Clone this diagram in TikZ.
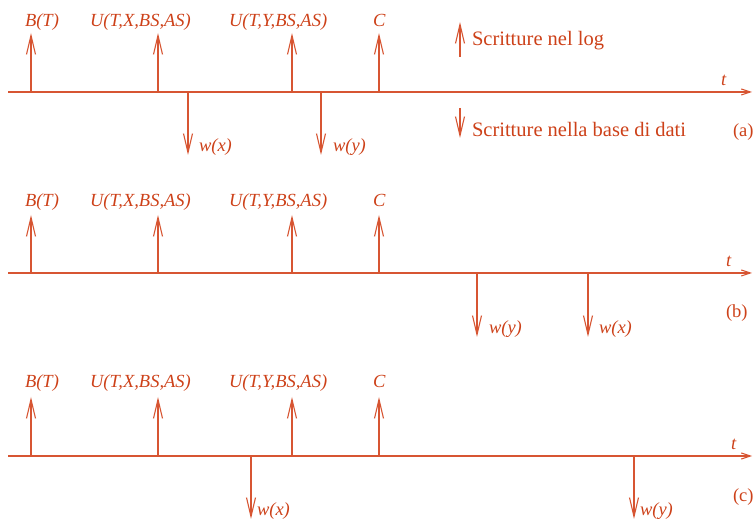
\documentclass[tikz,border=0pt]{standalone}
\usepackage{fontspec}
\setmainfont{Liberation Serif}
\usetikzlibrary{arrows.meta}
\definecolor{ink}{RGB}{205,65,25}
\definecolor{linecol}{RGB}{215,85,50}
\begin{document}
\begin{tikzpicture}[x=1pt,y=-1pt,
  every node/.style={inner sep=0pt,outer sep=0pt,text=ink,font=\fontsize{18.5}{22}\selectfont},
  lbl/.style={anchor=base west,font=\fontsize{18.5}{22}\selectfont\itshape},
  txt/.style={anchor=base west},
  legtxt/.style={anchor=base west,font=\fontsize{20.5}{24}\selectfont},
  evt/.style={draw=linecol,line width=1.1pt,-{Straight Barb[length=19pt,width=9pt,line width=1.1pt]}},
  axis/.style={draw=linecol,line width=1.1pt,-{Straight Barb[length=9pt,width=6pt,line width=1.1pt]}}]
\useasboundingbox (0,0) rectangle (756,521);
% ---------- panel (a)
\coordinate (a0) at (8,92); \coordinate (a1) at (752,92);
\draw[axis] (a0) -- (a1);
\node[lbl] (at) at (721,86) {t};
\foreach \n/\x in {b/31,x/158,y/292,c/379}{
  \coordinate (aB\n) at (\x,92); \coordinate (aT\n) at (\x,33);
  \draw[evt] (aB\n) -- (aT\n);}
\node[lbl] (aLb) at (25,26.5) {B(T)};
\node[lbl] (aLx) at (90,26.5) {U(T,X,BS,AS)};
\node[lbl] (aLy) at (229,26.5) {U(T,Y,BS,AS)};
\node[lbl] (aLc) at (373,26.5) {C};
\coordinate (aDx0) at (188,92); \coordinate (aDx1) at (188,155);
\coordinate (aDy0) at (321,92); \coordinate (aDy1) at (321,155);
\draw[evt] (aDx0) -- (aDx1);
\draw[evt] (aDy0) -- (aDy1);
\node[lbl] (aWx) at (199,152) {w(x)};
\node[lbl] (aWy) at (333,152) {w(y)};
% legend
\coordinate (lu0) at (460,57); \coordinate (lu1) at (460,22);
\coordinate (ld0) at (460,108); \coordinate (ld1) at (460,138);
\draw[evt] (lu0) -- (lu1);
\draw[evt] (ld0) -- (ld1);
\node[legtxt] (leg1) at (472,46) {Scritture nel log};
\node[legtxt] (leg2) at (472,137) {Scritture nella base di dati};
\node[txt] (capa) at (733,137) {(a)};
% ---------- panel (b)
\coordinate (b0) at (8,273); \coordinate (b1) at (752,273);
\draw[axis] (b0) -- (b1);
\node[lbl] (bt) at (726,267) {t};
\foreach \n/\x in {b/31,x/158,y/292,c/379}{
  \coordinate (bB\n) at (\x,273); \coordinate (bT\n) at (\x,215);
  \draw[evt] (bB\n) -- (bT\n);}
\node[lbl] (bLb) at (25,207) {B(T)};
\node[lbl] (bLx) at (90,207) {U(T,X,BS,AS)};
\node[lbl] (bLy) at (229,207) {U(T,Y,BS,AS)};
\node[lbl] (bLc) at (373,207) {C};
\coordinate (bDy0) at (477,273); \coordinate (bDy1) at (477,337);
\coordinate (bDx0) at (588,273); \coordinate (bDx1) at (588,337);
\draw[evt] (bDy0) -- (bDy1);
\draw[evt] (bDx0) -- (bDx1);
\node[lbl] (bWy) at (489,334) {w(y)};
\node[lbl] (bWx) at (599,334) {w(x)};
\node[txt] (capb) at (726,318) {(b)};
% ---------- panel (c)
\coordinate (c0) at (8,456); \coordinate (c1) at (752,456);
\draw[axis] (c0) -- (c1);
\node[lbl] (ct) at (731,450) {t};
\foreach \n/\x in {b/31,x/158,y/292,c/379}{
  \coordinate (cB\n) at (\x,456); \coordinate (cT\n) at (\x,397);
  \draw[evt] (cB\n) -- (cT\n);}
\node[lbl] (cLb) at (25,388) {B(T)};
\node[lbl] (cLx) at (90,388) {U(T,X,BS,AS)};
\node[lbl] (cLy) at (229,388) {U(T,Y,BS,AS)};
\node[lbl] (cLc) at (373,388) {C};
\coordinate (cDx0) at (251,456); \coordinate (cDx1) at (251,519);
\coordinate (cDy0) at (634,456); \coordinate (cDy1) at (634,519);
\draw[evt] (cDx0) -- (cDx1);
\draw[evt] (cDy0) -- (cDy1);
\node[lbl] (cWx) at (257,516) {w(x)};
\node[lbl] (cWy) at (640,516) {w(y)};
\node[txt] (capc) at (733,502) {(c)};
\end{tikzpicture}
\end{document}
